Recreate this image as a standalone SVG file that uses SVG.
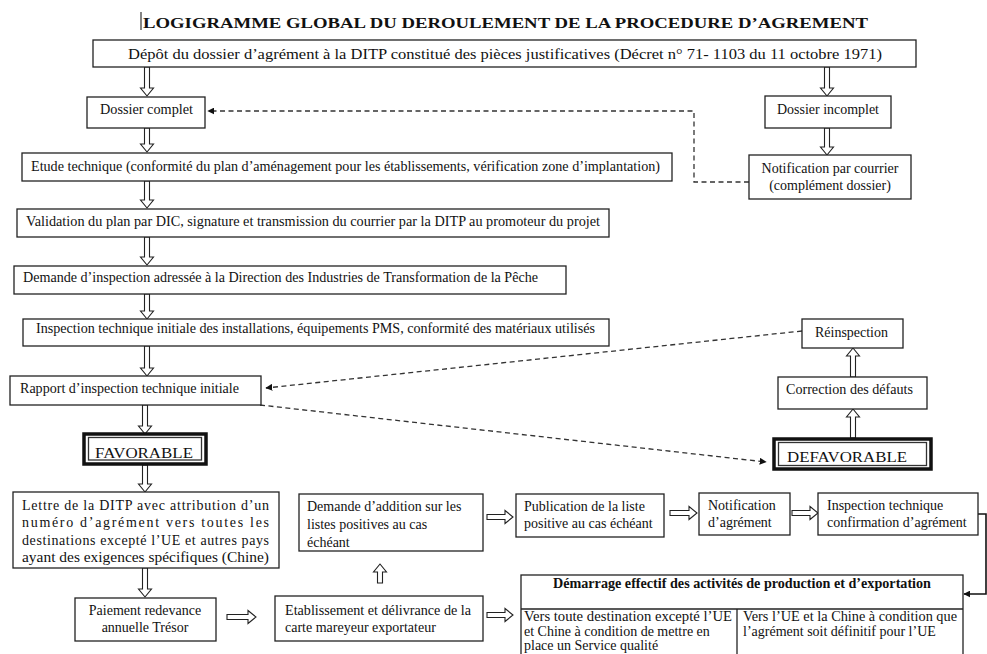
<svg xmlns="http://www.w3.org/2000/svg" width="987" height="654" viewBox="0 0 987 654">
<style>
.bx{fill:#fff;stroke:#222;stroke-width:1.3}
.t{font-family:"Liberation Serif","Times New Roman",serif;font-size:14px;fill:#111}
.tc{text-anchor:middle}
.b{font-weight:bold}
.ha{fill:#fff;stroke:#222;stroke-width:1.1;stroke-linejoin:miter}
.ds{fill:none;stroke:#333;stroke-width:1.3;stroke-dasharray:5 3.5}
.sl{fill:none;stroke:#111;stroke-width:1.6}
.outer{fill:#fff;stroke:#111;stroke-width:3.5}
.inner{fill:none;stroke:#333;stroke-width:1.3}
</style>
<defs>
<marker id="ah" viewBox="0 0 10 10" refX="9" refY="5" markerWidth="7" markerHeight="7" orient="auto" markerUnits="userSpaceOnUse">
<path d="M0,0 L10,5 L0,10 z" fill="#111"/>
</marker>
<clipPath id="cf"><rect x="85" y="436" width="120" height="22.5"/></clipPath>
<clipPath id="cd"><rect x="775" y="441" width="150" height="21.5"/></clipPath>
</defs>
<rect width="987" height="654" fill="#fff"/>

<g id="title">
<line x1="141" y1="12" x2="141" y2="30" stroke="#333" stroke-width="1.2"/>
<text class="t b" x="143" y="28" font-size="18.5" textLength="725" lengthAdjust="spacingAndGlyphs">LOGIGRAMME GLOBAL DU DEROULEMENT DE LA PROCEDURE D’AGREMENT</text>
</g>

<g id="connectors">
<path class="ha" d="M144.5,67 h5 v21 h4 l-6.5,8 l-6.5,-8 h4 z"/>
<path class="ha" d="M824.5,67 h5 v21 h4 l-6.5,8 l-6.5,-8 h4 z"/>
<path class="ha" d="M144.5,128 h5 v16 h4 l-6.5,8 l-6.5,-8 h4 z"/>
<path class="ha" d="M824.5,128 h5 v19 h4 l-6.5,8 l-6.5,-8 h4 z"/>
<path class="ha" d="M144.5,181 h5 v19 h4 l-6.5,8 l-6.5,-8 h4 z"/>
<path class="ha" d="M144.5,237 h5 v20 h4 l-6.5,8 l-6.5,-8 h4 z"/>
<path class="ha" d="M144.5,294 h5 v17 h4 l-6.5,8 l-6.5,-8 h4 z"/>
<path class="ha" d="M144.5,346 h5 v22 h4 l-6.5,8 l-6.5,-8 h4 z"/>
<path class="ha" d="M142.5,405 h5 v21 h4 l-6.5,8 l-6.5,-8 h4 z"/>
<path class="ha" d="M142.5,465 h5 v19 h4 l-6.5,8 l-6.5,-8 h4 z"/>
<path class="ha" d="M142.5,568 h5 v21 h4 l-6.5,8 l-6.5,-8 h4 z"/>
<path class="ha" d="M850.5,377 h5 v-21 h4 l-6.5,-8 l-6.5,8 h4 z"/>
<path class="ha" d="M850.5,438 h5 v-21 h4 l-6.5,-8 l-6.5,8 h4 z"/>
<path class="ha" d="M377.5,583 h5 v-11 h4 l-6.5,-8 l-6.5,8 h4 z"/>
<path class="ha" d="M227,614.5 v5 h21 v4 l8,-6.5 l-8,-6.5 v4 z"/>
<path class="ha" d="M487,514.5 v5 h18 v4 l8,-6.5 l-8,-6.5 v4 z"/>
<path class="ha" d="M670,510.5 v5 h19 v4 l8,-6.5 l-8,-6.5 v4 z"/>
<path class="ha" d="M792,510.5 v5 h18 v4 l8,-6.5 l-8,-6.5 v4 z"/>
<path class="ha" d="M487,612.5 v5 h18 v4 l8,-6.5 l-8,-6.5 v4 z"/>
<path class="ds" d="M749,182 H694 V111 H208" marker-end="url(#ah)"/>
<path class="ds" d="M802,331 L266,388" marker-end="url(#ah)"/>
<path class="ds" d="M260,405 L766,462" marker-end="url(#ah)"/>
<path class="sl" d="M978,514 H986 V594 H964" marker-end="url(#ah)"/>
</g>

<g id="n-depot">
<rect class="bx" x="93" y="40" width="823" height="27"/>
<text class="t" x="128" y="59" font-size="15.5" textLength="754" lengthAdjust="spacingAndGlyphs">Dépôt du dossier d’agrément à la DITP constitué des pièces justificatives (Décret n° 71- 1103 du 11 octobre 1971)</text>
</g>
<g id="n-complet">
<rect class="bx" x="87" y="97" width="118" height="31"/>
<text class="t" x="100" y="114" textLength="93" lengthAdjust="spacingAndGlyphs">Dossier complet</text>
</g>
<g id="n-incomplet">
<rect class="bx" x="765" y="96" width="126" height="32"/>
<text class="t" x="777" y="114" textLength="102" lengthAdjust="spacingAndGlyphs">Dossier incomplet</text>
</g>
<g id="n-etude">
<rect class="bx" x="22" y="153" width="650" height="28"/>
<text class="t" x="31" y="171" textLength="629" lengthAdjust="spacingAndGlyphs">Etude technique (conformité du plan d’aménagement pour les établissements, vérification zone d’implantation)</text>
</g>
<g id="n-notif-courrier">
<rect class="bx" x="749" y="155" width="162" height="44"/>
<text class="t tc" x="830" y="173">Notification par courrier</text>
<text class="t tc" x="830" y="190">(complément dossier)</text>
</g>
<g id="n-validation">
<rect class="bx" x="17" y="209" width="592" height="28"/>
<text class="t" x="26" y="226" textLength="574" lengthAdjust="spacingAndGlyphs">Validation du plan par DIC, signature et transmission du courrier par la DITP au promoteur du projet</text>
</g>
<g id="n-demande-insp">
<rect class="bx" x="14" y="266" width="552" height="28"/>
<text class="t" x="23" y="282" textLength="515" lengthAdjust="spacingAndGlyphs">Demande d’inspection adressée à la Direction des Industries de Transformation de la Pêche</text>
</g>
<g id="n-insp-init">
<rect class="bx" x="23" y="319" width="586" height="27"/>
<text class="t" x="36" y="333" textLength="559" lengthAdjust="spacingAndGlyphs">Inspection technique initiale des installations, équipements PMS, conformité des matériaux utilisés</text>
</g>
<g id="n-rapport">
<rect class="bx" x="10" y="376" width="251" height="29"/>
<text class="t" x="20" y="393" textLength="219" lengthAdjust="spacingAndGlyphs">Rapport d’inspection technique initiale</text>
</g>
<g id="n-reinspection">
<rect class="bx" x="802" y="319" width="101" height="29"/>
<text class="t" x="815" y="337" textLength="73" lengthAdjust="spacingAndGlyphs">Réinspection</text>
</g>
<g id="n-correction">
<rect class="bx" x="778" y="377" width="149" height="32"/>
<text class="t" x="786" y="394" textLength="127" lengthAdjust="spacingAndGlyphs">Correction des défauts</text>
</g>
<g id="n-favorable">
<rect class="outer" x="84" y="434" width="122" height="30"/>
<rect class="inner" x="88.5" y="437.5" width="113" height="22.5"/>
<text class="t" x="95" y="458" font-size="16.5" textLength="98" lengthAdjust="spacingAndGlyphs" clip-path="url(#cf)">FAVORABLE</text>
</g>
<g id="n-defavorable">
<rect class="outer" x="774" y="439" width="157" height="30"/>
<rect class="inner" x="778.5" y="442.5" width="148" height="23"/>
<text class="t" x="787" y="462" font-size="16.5" textLength="120" lengthAdjust="spacingAndGlyphs" clip-path="url(#cd)">DEFAVORABLE</text>
</g>
<g id="n-lettre">
<rect class="bx" x="13" y="492" width="266" height="76"/>
<text class="t" x="22" y="510" textLength="247" lengthAdjust="spacing">Lettre de la DITP avec attribution d’un</text>
<text class="t" x="22" y="527" textLength="247" lengthAdjust="spacing">numéro d’agrément vers toutes les</text>
<text class="t" x="22" y="545" textLength="247" lengthAdjust="spacing">destinations excepté l’UE et autres pays</text>
<text class="t" x="22" y="562" textLength="247" lengthAdjust="spacingAndGlyphs">ayant des exigences spécifiques (Chine)</text>
</g>
<g id="n-paiement">
<rect class="bx" x="75" y="598" width="141" height="43"/>
<text class="t tc" x="145" y="615">Paiement redevance</text>
<text class="t tc" x="145" y="632">annuelle Trésor</text>
</g>
<g id="n-etablissement">
<rect class="bx" x="275" y="596" width="208" height="45"/>
<text class="t" x="285" y="615" textLength="186" lengthAdjust="spacingAndGlyphs">Etablissement et délivrance de la</text>
<text class="t" x="285" y="632">carte mareyeur exportateur</text>
</g>
<g id="n-addition">
<rect class="bx" x="299" y="494" width="184" height="57"/>
<text class="t" x="307" y="511">Demande d’addition sur les</text>
<text class="t" x="307" y="529">listes positives au cas</text>
<text class="t" x="307" y="547">échéant</text>
</g>
<g id="n-publication">
<rect class="bx" x="516" y="494" width="148" height="43"/>
<text class="t" x="524" y="511">Publication de la liste</text>
<text class="t" x="524" y="528">positive au cas échéant</text>
</g>
<g id="n-notif-agrement">
<rect class="bx" x="699" y="493" width="91" height="42"/>
<text class="t" x="708" y="510">Notification</text>
<text class="t" x="708" y="527">d’agrément</text>
</g>
<g id="n-insp-confirm">
<rect class="bx" x="818" y="493" width="160" height="42"/>
<text class="t" x="827" y="510">Inspection technique</text>
<text class="t" x="827" y="527">confirmation d’agrément</text>
</g>
<g id="n-demarrage">
<rect class="bx" x="521" y="575" width="442" height="90"/>
<line x1="521" y1="609" x2="963" y2="609" stroke="#222" stroke-width="1.3"/>
<line x1="737" y1="609" x2="737" y2="660" stroke="#222" stroke-width="1.3"/>
<text class="t b" x="553" y="588" textLength="378" lengthAdjust="spacingAndGlyphs">Démarrage effectif des activités de production et d’exportation</text>
<text class="t" x="524" y="621" textLength="208" lengthAdjust="spacingAndGlyphs">Vers toute destination excepté l’UE</text>
<text class="t" x="524" y="636">et Chine à condition de mettre en</text>
<text class="t" x="524" y="650">place un Service qualité</text>
<text class="t" x="743" y="621" textLength="214" lengthAdjust="spacingAndGlyphs">Vers l’UE et la Chine à condition que</text>
<text class="t" x="743" y="636">l’agrément soit définitif pour l’UE</text>
</g>
</svg>
